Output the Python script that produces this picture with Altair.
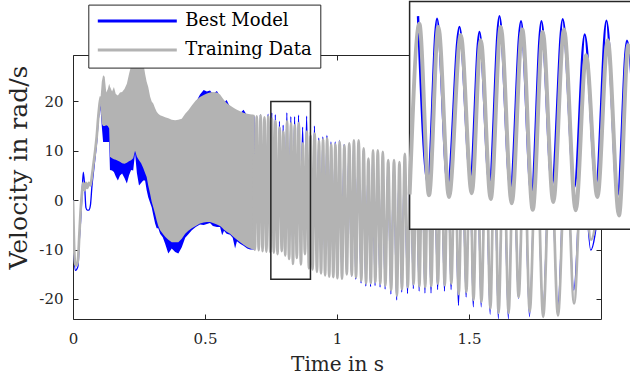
import altair as alt
import pandas as pd

# ---------------- data ----------------
# start-up transient (time in s, velocity in rad/s)
trans_t = [0, 0.004, 0.009, 0.014, 0.019, 0.024, 0.029, 0.034, 0.039, 0.044, 0.049,
           0.054, 0.060, 0.066, 0.072, 0.078, 0.084, 0.090, 0.096, 0.102, 0.106]
trans_gray = [0, -9, -13, -13.2, -12, -7, -2, 1.5, 3.5, 2, 3.5,
              2.5, 3.5, 3, 5, 7.5, 10, 13, 17, 20, 21]
trans_blue = [0, -11, -14.2, -14.0, -13.3, -8, -4, 1, 5.7, 3, -1.5,
              -2, -2, -1, 3, 6, 9, 12, 16.5, 18.5, 19]

# dense high-frequency part: envelopes
env_t = [0.104, 0.109, 0.114, 0.120, 0.126, 0.132, 0.137, 0.140, 0.148, 0.155, 0.162,
         0.170, 0.178, 0.186, 0.195, 0.204, 0.212, 0.220, 0.228, 0.235, 0.242, 0.250,
         0.258, 0.266, 0.273, 0.279, 0.285, 0.292, 0.298, 0.304, 0.311, 0.317, 0.323,
         0.330, 0.340, 0.349, 0.361, 0.374, 0.387, 0.399, 0.412, 0.425, 0.437, 0.450,
         0.465, 0.481, 0.495, 0.507, 0.519, 0.530, 0.545, 0.557, 0.565, 0.572, 0.582,
         0.595, 0.605, 0.614, 0.621, 0.633, 0.646, 0.660, 0.671, 0.682, 0.688]
gray_hi = [20.5, 24.0, 25.3, 25.0, 21.8, 22.5, 23.6, 23.0, 22.0, 22.9, 21.5,
           21.2, 21.8, 21.9, 22.5, 23.6, 25.5, 27.2, 29.4, 29.4, 29.4, 29.4,
           29.4, 28.0, 25.6, 24.0, 22.9, 21.0, 20.0, 19.6, 18.6, 17.9, 17.5,
           17.2, 17.0, 16.8, 16.6, 16.3, 16.2, 16.3, 16.5, 17.5, 18.2, 19.2,
           20.2, 20.9, 21.3, 21.6, 21.8, 21.9, 21.8, 21.4, 20.8, 20.3, 19.7,
           19.2, 18.8, 18.5, 18.3, 18.0, 17.7, 17.5, 17.4, 17.3, 17.2]
gray_lo = [19.0, 15.5, 15.0, 15.0, 15.2, 15.0, 14.5, 8.8, 8.5, 8.3, 8.2,
           8.0, 7.8, 7.5, 7.4, 7.6, 7.9, 8.1, 8.5, 10.0, 8.8, 8.1,
           7.5, 6.5, 5.5, 4.7, 3.0, 1.3, -0.3, -1.4, -2.8, -4.1, -5.2,
           -6.1, -6.8, -7.4, -8.0, -8.5, -8.5, -8.5, -7.8, -6.8, -6.2, -5.7,
           -5.2, -4.7, -4.5, -4.4, -4.4, -4.6, -4.9, -5.2, -5.6, -6.0, -6.4,
           -6.8, -7.3, -7.7, -8.0, -8.5, -9.0, -9.5, -9.8, -10.0, -10.0]
blue_hi = [19.5, 20.0, 20.0, 20.0, 20.0, 20.0, 20.0, 20.0, 20.0, 20.0, 20.0,
           20.0, 20.0, 20.0, 20.0, 21.0, 22.0, 24.0, 25.0, 26.0, 26.0, 26.0,
           26.0, 25.0, 24.0, 23.0, 22.0, 20.0, 19.0, 19.0, 18.0, 17.5, 17.0,
           16.8, 16.5, 16.3, 16.0, 16.0, 16.0, 16.0, 16.0, 17.0, 17.8, 18.8,
           19.8, 21.4, 22.3, 22.0, 22.2, 21.5, 22.1, 21.0, 20.3, 19.8, 20.3,
           18.8, 18.4, 18.0, 17.8, 17.6, 18.3, 17.1, 17.0, 17.0, 17.0]
blue_lo = [18.5, 15.0, 11.8, 11.8, 11.8, 11.8, 11.8, 6.1, 6.0, 5.7, 4.8,
           4.0, 5.0, 5.4, 4.5, 3.4, 5.0, 6.1, 6.0, 9.5, 5.5, 3.0,
           3.5, 4.0, 4.0, 2.0, 0.6, -0.5, -1.4, -3.0, -4.7, -5.7, -5.7,
           -6.8, -7.5, -8.8, -10.8, -9.8, -10.5, -10.8, -9.5, -7.6, -6.9, -6.1,
           -5.4, -4.9, -5.0, -4.8, -4.6, -5.2, -5.4, -5.4, -7.1, -6.2, -6.8,
           -7.0, -7.6, -9.8, -8.3, -8.8, -9.2, -9.8, -10.0, -10.0, -10.0]

# resolved oscillation: alternating peaks / troughs
ext_t = [0.682, 0.689, 0.696, 0.7035, 0.7107, 0.718, 0.7252, 0.7325, 0.7398, 0.7471,
         0.7539, 0.7607, 0.7672, 0.7747, 0.7829, 0.7906, 0.7969, 0.8039, 0.8109, 0.8186,
         0.8260, 0.8333, 0.8403, 0.8477, 0.8552, 0.8634, 0.8706, 0.8786, 0.8858, 0.8937,
         0.9002, 0.9075, 0.9155, 0.924, 0.9318, 0.9395, 0.9472, 0.955, 0.9627, 0.9705,
         0.978, 0.986, 0.994, 1.0015, 1.010, 1.019, 1.028, 1.037, 1.0465, 1.056,
         1.064, 1.072, 1.082, 1.092, 1.101, 1.110, 1.119, 1.128, 1.1365, 1.145,
         1.1545, 1.164, 1.1735, 1.183, 1.194, 1.205, 1.216, 1.227, 1.2365, 1.246,
         1.257, 1.268, 1.279, 1.290, 1.301, 1.312, 1.323, 1.334, 1.3455, 1.357,
         1.3695, 1.382, 1.395, 1.408, 1.4205, 1.433, 1.447, 1.461, 1.4755, 1.490,
         1.5035, 1.517, 1.532, 1.547, 1.564, 1.581, 1.5965, 1.612, 1.631, 1.650,
         1.669, 1.688, 1.709, 1.730, 1.7555, 1.781, 1.809, 1.837, 1.8675, 1.898,
         1.930, 1.962, 1.995]
ext_gray = [17.3, -10.0, 17.0, -10.1, 17.2, -10.3, 16.8, -10.4, 17.0, -10.5,
            16.5, -10.6, 16.0, -10.9, 14.7, -10.3, 13.9, -11.2, 16.0, -11.9,
            15.6, -12.9, 15.2, -11.7, 15.6, -13.0, 11.5, -10.9, 13.9, -13.8,
            13.1, -14.0, 13.5, -14.5, 12.0, -14.8, 12.3, -15.2, 12.5, -15.5,
            11.3, -15.6, 11.3, -15.8, 11.8, -15.9, 11.1, -15.0, 11.5, -15.2,
            12.1, -15.6, 12.1, -16.3, 10.5, -16.8, 8.4, -16.8, 10.1, -16.6,
            10.1, -16.9, 9.8, -17.3, 8.1, -18.2, 8.1, -19.3, 7.7, -18.0,
            9.4, -17.6, 9.0, -17.0, 9.5, -17.4, 10.0, -17.6, 10.0, -17.4,
            11.0, -16.9, 11.0, -17.2, 10.0, -16.9, 10.0, -19.0, 10.0, -18.6,
            11.0, -20.2, 11.0, -20.6, 12.0, -21.9, 12.0, -22.8, 13.0, -22.8,
            12.0, -19.6, 12.0, -22.5, 13.0, -23.6, 13.0, -23.3, 12.0, -20.9,
            10.0, -8.0, 2.0]
ext_blue = [17.0, -9.3, 16.8, -9.4, 17.3, -9.5, 16.5, -9.3, 17.4, -9.0,
            17.7, -8.8, 17.3, -9.0, 16.0, -7.7, 15.2, -8.8, 17.7, -9.6,
            16.9, -10.6, 16.9, -9.0, 17.2, -9.3, 14.8, -8.8, 17.0, -10.6,
            13.8, -11.5, 15.0, -12.3, 12.6, -12.8, 12.8, -13.3, 13.1, -13.8,
            11.8, -14.2, 11.8, -14.6, 12.1, -14.9, 11.3, -14.0, 11.0, -15.4,
            11.6, -16.0, 11.6, -16.8, 10.0, -17.4, 8.0, -17.5, 9.6, -17.3,
            9.6, -17.6, 9.3, -18.0, 7.6, -19.0, 7.6, -20.2, 7.2, -18.6,
            9.0, -18.9, 8.6, -17.9, 9.0, -18.4, 9.5, -18.8, 9.5, -18.8,
            10.5, -18.1, 10.5, -18.4, 9.5, -18.1, 9.5, -21.3, 9.5, -19.6,
            10.5, -21.6, 10.5, -21.6, 11.5, -23.1, 11.5, -24.0, 12.5, -24.0,
            11.5, -19.9, 11.5, -23.6, 12.5, -22.5, 12.5, -21.8, 11.5, -18.2,
            9.5, -10.1, 0.0]
blue_lead = 0.0009          # model leads the data slightly (seen in the zoom)

series_names = ["Best Model", "Training Data"]
series_colors = ["#0000ff", "#b3b3b3"]

x_ticks = [0, 0.5, 1, 1.5]
y_ticks = [-20, -10, 0, 10, 20]

zoom_box = {"t1": [0.7494], "t2": [0.8995], "v1": [-16], "v2": [20]}
inset_t = [0.7471, 0.9075]
inset_v = [-16, 20]

# ---------------- tables ----------------
def line_table(tt, vv, name, seg, lead=0.0):
    return pd.DataFrame({"t": [x - lead for x in tt], "v": vv, "series": name, "seg": seg})

blue_df = pd.concat([line_table(trans_t, trans_blue, series_names[0], 0),
                     line_table(ext_t, ext_blue, series_names[0], 1, blue_lead)])
gray_df = pd.concat([line_table(trans_t, trans_gray, series_names[1], 0),
                     line_table(ext_t, ext_gray, series_names[1], 1)])
env_df = pd.DataFrame({"t": env_t, "ghi": gray_hi, "glo": gray_lo,
                       "bhi": blue_hi, "blo": blue_lo})
in_blue = line_table(ext_t, ext_blue, series_names[0], 1, blue_lead)
in_blue = in_blue[(in_blue.t >= inset_t[0] - 0.0001) & (in_blue.t <= inset_t[1] + 0.0001)]
in_gray = line_table(ext_t, ext_gray, series_names[1], 1)
in_gray = in_gray[(in_gray.t >= inset_t[0] - 0.0001) & (in_gray.t <= inset_t[1] + 0.0001)]
box_df = pd.DataFrame(zoom_box)
inset_box = pd.DataFrame({"t1": [inset_t[0]], "t2": [inset_t[1]],
                          "v1": [inset_v[0]], "v2": [inset_v[1]]})

# ---------------- scales / axes ----------------
W, H = 528, 264
XDOM = [0, 2]
YDOM = [-24.05, 29.4]
FONT = "DejaVu Serif"
INK = "#262626"

xs = alt.Scale(domain=XDOM, nice=False, zero=False)
ys = alt.Scale(domain=YDOM, nice=False, zero=False)
ixs = alt.Scale(domain=inset_t, range=[336.6, 565.7], nice=False, zero=False)
iys = alt.Scale(domain=inset_v, range=[174.3, -53.4], nice=False, zero=False)

common_axis = dict(domain=False, grid=False, tickSize=5, offset=-5, tickColor=INK,
                   tickWidth=1, labelFont=FONT, labelFontSize=15, labelColor=INK,
                   labelFlush=False, titleFont=FONT, titleFontWeight="normal",
                   titleColor=INK, labelExpr="'' + datum.value")
x_axis = alt.Axis(values=x_ticks, title="Time in s", labelPadding=12, titlePadding=8,
                  titleFontSize=20, **common_axis)
y_axis = alt.Axis(values=y_ticks, title="Velocity in rad/s", labelPadding=10,
                  titlePadding=7, titleFontSize=25, titleY=112, **common_axis)
x_axis_top = alt.Axis(values=x_ticks, orient="top", labels=False, title=None,
                      domain=False, grid=False, tickSize=5, offset=-5, tickColor=INK)
y_axis_right = alt.Axis(values=y_ticks, orient="right", labels=False, title=None,
                        domain=False, grid=False, tickSize=5, offset=-5, tickColor=INK)

color = alt.Color("series:N",
                  scale=alt.Scale(domain=series_names, range=series_colors),
                  legend=alt.Legend(orient="none", legendX=15.3, legendY=-50.4, title=None,
                                    symbolType="stroke", symbolSize=6241,
                                    symbolStrokeWidth=3, clipHeight=17, rowPadding=10,
                                    labelFont=FONT, labelFontSize=18, labelColor="black",
                                    labelOffset=7, padding=8, strokeColor=INK,
                                    fillColor="white", labelLimit=400))

# ---------------- layers ----------------
blue_area = alt.Chart(env_df).mark_area(color=series_colors[0], clip=True).encode(
    x=alt.X("t:Q", scale=xs, axis=None),
    y=alt.Y("blo:Q", scale=ys, axis=None), y2="bhi:Q")
gray_area = alt.Chart(env_df).mark_area(color=series_colors[1], clip=True).encode(
    x=alt.X("t:Q", scale=xs, axis=None),
    y=alt.Y("glo:Q", scale=ys, axis=None), y2="ghi:Q")
blue_line = alt.Chart(blue_df).mark_line(strokeWidth=1.3, interpolate="monotone",
                                         clip=True).encode(
    x=alt.X("t:Q", scale=xs, axis=None),
    y=alt.Y("v:Q", scale=ys, axis=None), color=color, detail="seg:N")
gray_line = alt.Chart(gray_df).mark_line(strokeWidth=2.7, interpolate="monotone",
                                         clip=True).encode(
    x=alt.X("t:Q", scale=xs, axis=x_axis),
    y=alt.Y("v:Q", scale=ys, axis=y_axis), color=color, detail="seg:N")
zoom_rect = alt.Chart(box_df).mark_rect(fillOpacity=0, stroke=INK, strokeWidth=1.5).encode(
    x=alt.X("t1:Q", scale=xs, axis=x_axis_top), x2="t2:Q",
    y=alt.Y("v1:Q", scale=ys, axis=y_axis_right), y2="v2:Q")

inset_bg = alt.Chart(inset_box).mark_rect(fill="white", stroke=INK, strokeWidth=1.5).encode(
    x=alt.X("t1:Q", scale=ixs, axis=None), x2="t2:Q",
    y=alt.Y("v1:Q", scale=iys, axis=None), y2="v2:Q")
inset_blue = alt.Chart(in_blue).mark_line(strokeWidth=2.4, interpolate="monotone",
                                          color=series_colors[0]).encode(
    x=alt.X("t:Q", scale=ixs, axis=None), y=alt.Y("v:Q", scale=iys, axis=None))
inset_gray = alt.Chart(in_gray).mark_line(strokeWidth=4.0, interpolate="monotone",
                                          color=series_colors[1]).encode(
    x=alt.X("t:Q", scale=ixs, axis=None), y=alt.Y("v:Q", scale=iys, axis=None))

chart = alt.layer(
    blue_area, blue_line, gray_area, gray_line, zoom_rect,
    inset_bg, inset_blue, inset_gray
).resolve_scale(
    x="independent", y="independent"
).properties(
    width=W, height=H,
    padding={"left": 73, "top": 55, "right": 29, "bottom": 64},
    autosize=alt.AutoSizeParams(type="none"),
    background="white"
).configure_view(
    stroke=INK, strokeWidth=1
)

chart.save("out.html", embed_options={"renderer": "svg", "actions": False})
